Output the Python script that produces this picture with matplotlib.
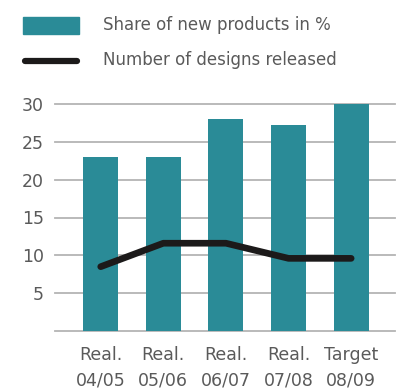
import matplotlib
matplotlib.use("Agg")
import matplotlib.pyplot as plt
from matplotlib.patches import Rectangle
from matplotlib.lines import Line2D

categories = ["Real.\n04/05", "Real.\n05/06", "Real.\n06/07", "Real.\n07/08", "Target\n08/09"]
share_new_products = [23, 23, 28, 27.2, 30]
designs_released = [8.5, 11.6, 11.6, 9.6, 9.6]
y_ticks = [5, 10, 15, 20, 25, 30]

teal = "#2a8b97"
dark = "#1c1a1a"
grid = "#b4b4b4"
text = "#5a5a5a"
plt.rcParams['font.family'] = ['DejaVu Sans']

fig = plt.figure(figsize=(3.98, 3.91), dpi=100)
ax = fig.add_axes([55/398, 1-331/391, 340/398, (331-104)/391])

x = list(range(len(categories)))
ax.bar(x, share_new_products, width=0.56, color=teal, zorder=2)
ax.plot(x, designs_released, color=dark, lw=4.8, solid_joinstyle='round',
        solid_capstyle='round', zorder=3)

ax.set_xlim(-0.73, 4.70)
ax.set_ylim(0, 30)
for v in [0] + y_ticks:
    ax.axhline(v, color=grid, lw=1.3, zorder=1, clip_on=False)
for s in ax.spines.values():
    s.set_visible(False)
ax.set_yticks(y_ticks)
ax.set_yticklabels([str(v) for v in y_ticks])
ax.set_xticks(x)
ax.set_xticklabels(categories, linespacing=1.5)
ax.tick_params(axis='both', length=0, colors=text)
ax.tick_params(axis='y', pad=8, labelsize=12.5)
ax.tick_params(axis='x', pad=11, labelsize=12.5)

# legend
fig.add_artist(Rectangle((23/398, 1-34/391), 56/398, 17/391,
                         transform=fig.transFigure, color=teal))
fig.add_artist(Line2D([25/398, 77/398], [1-61/391, 1-61/391],
                      transform=fig.transFigure, color=dark, lw=4.5,
                      solid_capstyle='round'))
fig.text(103/398, 1-25/391, "Share of new products in %", color=text,
         fontsize=12, va='center', ha='left')
fig.text(103/398, 1-60/391, "Number of designs released", color=text,
         fontsize=12, va='center', ha='left')

fig.savefig("out.png", dpi=100, facecolor='white')
